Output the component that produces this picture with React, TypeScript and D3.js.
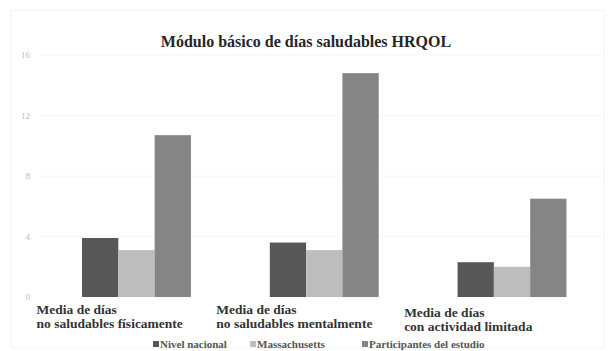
import React from "react";
import * as d3 from "d3";

const categories = [
  ["Media de días", "no saludables físicamente"],
  ["Media de días", "no saludables mentalmente"],
  ["Media de días", "con actividad limitada"],
];
const seriesNames = ["Nivel nacional", "Massachusetts", "Participantes del estudio"];
const nivelNacional = [3.9, 3.6, 2.3];
const massachusetts = [3.1, 3.1, 2.0];
const participantes = [10.7, 14.8, 6.5];
const yTicks = [0, 4, 8, 12, 16];
const title = "Módulo básico de días saludables HRQOL";

const colors = ["#575757", "#bdbdbd", "#858585"];

export default function App() {
  const W = 608, H = 351;
  const series = [nivelNacional, massachusetts, participantes];
  const catIdx = categories.map((_, i) => i);
  const x0 = d3.scaleBand<number>().domain(catIdx).range([42.6, 605.9]).paddingInner(0.42).paddingOuter(0.21);
  const x1 = d3.scaleBand<number>().domain(series.map((_, i) => i)).range([0, x0.bandwidth()]);
  const y = d3.scaleLinear().domain([0, 16]).range([297, 55]);
  const step = x0.step();
  const serif = "Liberation Serif, DejaVu Serif, serif";
  const legendX = [153, 250, 362];

  return (
    <svg width={W} height={H} style={{ position: "absolute", left: 0, top: 0, background: "#fff", fontFamily: serif }}>
      <rect x={11} y={10} width={593} height={338} fill="#fff" stroke="#f2f2f2" />
      {yTicks.map((t) => (
        <g key={t}>
          {t > 0 && <line x1={40} x2={604} y1={y(t)} y2={y(t)} stroke="#f6f6f6" />}
          <text x={30} y={y(t) + 3} textAnchor="end" fontSize={9} fill="#bbb" style={{ fontFamily: serif }}>
            {t}
          </text>
        </g>
      ))}
      <text x={306} y={47} textAnchor="middle" fontSize={16} fontWeight="bold" fill="#262626" style={{ fontFamily: serif }}>
        {title}
      </text>
      {catIdx.map((c) =>
        series.map((s, si) => (
          <rect
            key={`${c}-${si}`}
            x={(x0(c) as number) + (x1(si) as number)}
            y={y(s[c])}
            width={x1.bandwidth()}
            height={y(0) - y(s[c])}
            fill={colors[si]}
          />
        ))
      )}
      {categories.map((lines, c) => {
        const lx = (x0(c) as number) - step * 0.21 - (c === 0 ? 6 : 14);
        const dy = c === 2 ? 3 : 0;
        return (
          <text key={c} fontSize={13.5} fontWeight="bold" fill="#333" style={{ fontFamily: serif }}>
            {lines.map((l, li) => (
              <tspan key={li} x={lx} y={314 + dy + li * 14}>
                {l}
              </tspan>
            ))}
          </text>
        );
      })}
      {seriesNames.map((n, i) => (
        <g key={n}>
          <rect x={legendX[i]} y={341} width={6} height={6} fill={colors[i]} />
          <text x={legendX[i] + 7} y={348} fontSize={11} fontWeight="bold" fill="#555" style={{ fontFamily: serif }}>
            {n}
          </text>
        </g>
      ))}
    </svg>
  );
}
